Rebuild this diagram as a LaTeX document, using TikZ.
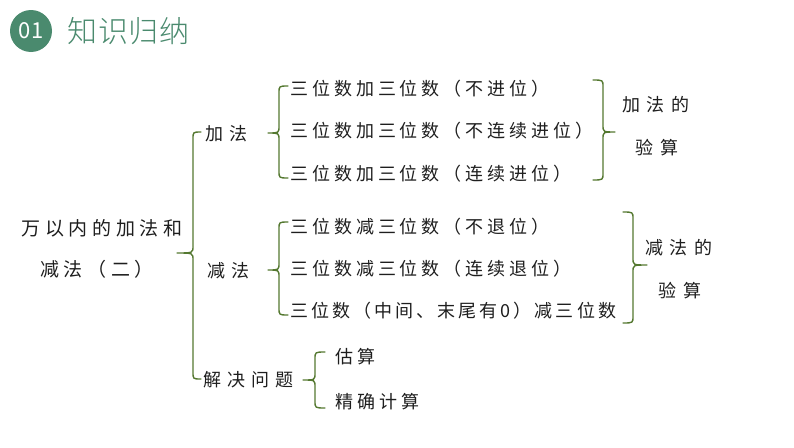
\documentclass[tikz,border=0pt]{standalone}
\usepackage{fontspec}
\newfontfamily\cjk{Noto Sans CJK SC}
\newfontfamily\cjkS[LetterSpace=22]{Noto Sans CJK SC}
\newfontfamily\cjkSs[LetterSpace=17]{Noto Sans CJK SC}
\newfontfamily\cjkL[LetterSpace=24]{Noto Sans CJK SC}
\newfontfamily\cjkM[LetterSpace=34]{Noto Sans CJK SC}
\newfontfamily\cjkT[LetterSpace=3]{Noto Sans CJK SC Light}
\definecolor{hdgreen}{RGB}{74,138,110}
\definecolor{brgreen}{RGB}{84,120,48}
\definecolor{txt}{RGB}{30,30,30}
\newcommand{\BrX}[6]{% xl, ytop, ybot, ymid, xtip, xend
  \draw[brc] (#6,#2) .. controls (#1,#2) .. (#1,#2+7) -- (#1,#4-7)
    .. controls (#1,#4) .. (#5,#4) .. controls (#1,#4) .. (#1,#4+7)
    -- (#1,#3-7) .. controls (#1,#3) .. (#6,#3);}
\begin{document}
\begin{tikzpicture}[x=1pt,y=-1pt,
  brc/.style={draw=brgreen,line width=1.4pt,line cap=round,line join=round},
  item/.style={anchor=west,inner sep=0pt,text=txt,font=\cjkS\fontsize{18}{20}\selectfont},
  big/.style={inner sep=0pt,text=txt,font=\cjkL\fontsize{19}{22}\selectfont},
  side/.style={inner sep=0pt,text=txt,font=\cjkM\fontsize{18}{20}\selectfont}]
\useasboundingbox (0,0) rectangle (794,447);
% header
\node[circle,fill=hdgreen,minimum size=42pt,inner sep=0pt,text=white,
  font=\cjk\fontsize{22}{24}\selectfont] (num) at (31,31) {01};
\node[anchor=west,inner sep=0pt,text=hdgreen,font=\cjkT\fontsize{30}{32}\selectfont]
  (title) at (67,31) {知识归纳};
% root
\node[big] (root1) at (102,228) {万以内的加法和};
\node[big] (root2) at (97,269) {减法（二）};
\BrX{193}{132}{379}{253}{177}{201}
% level 1
\node[side,anchor=west] (add) at (205,134) {加法};
\node[side,anchor=west] (sub) at (207,271) {减法};
\node[side,anchor=west] (solve) at (203,380) {解决问题};
% addition
\BrX{279}{86}{178}{133}{268}{288}
\node[item] (a1) at (290,89) {三位数加三位数（不进位）};
\node[item] (a2) at (290,131) {三位数加三位数（不连续进位）};
\node[item] (a3) at (290,174) {三位数加三位数（连续进位）};
\BrX{603}{80}{180}{132}{615}{593}
\node[side] (ac1) at (656,105) {加法的};
\node[side] (ac2) at (657,148) {验算};
% subtraction
\BrX{279}{222}{315}{270}{268}{288}
\node[item] (s1) at (290,227) {三位数减三位数（不退位）};
\node[item] (s2) at (290,269) {三位数减三位数（连续退位）};
\node[item,font=\cjkSs\fontsize{18}{20}\selectfont] (s3) at (290,311) {三位数（中间、末尾有0）减三位数};
\BrX{633}{212}{323}{265}{647}{623}
\node[side] (sc1) at (679,248) {减法的};
\node[side] (sc2) at (680,291) {验算};
% problem solving
\BrX{315}{352}{408}{380}{303}{325}
\node[item] (p1) at (335,357) {估算};
\node[item] (p2) at (335,402) {精确计算};
\end{tikzpicture}
\end{document}
